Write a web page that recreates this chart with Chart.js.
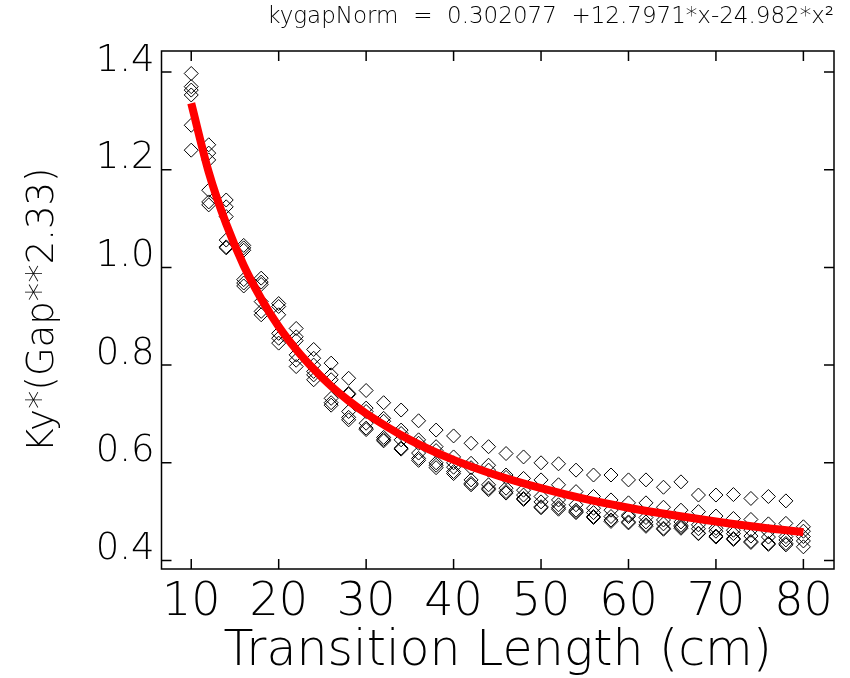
<!DOCTYPE html>
<html>
<head>
<meta charset="utf-8">
<script src="https://cdn.jsdelivr.net/npm/chart.js@4.4.0/dist/chart.umd.min.js"></script>
<style>
  html, body { margin: 0; padding: 0; background: #fff; }
</style>
</head>
<body>
<canvas id="myChart" width="850" height="678"></canvas>
<script>
// transition lengths (cm) where points were measured
const lengths = [10, 12, 14, 16, 18, 20, 22, 24, 26, 28, 30, 32, 34, 36, 38, 40, 42, 44,
                 46, 48, 50, 52, 54, 56, 58, 60, 62, 64, 66, 68, 70, 72, 74, 76, 78, 80];

// Ky*(Gap**2.33), one list per series
const seriesA = [1.397, 1.251, 1.138, 1.045, 0.978, 0.926, 0.875, 0.832, 0.804, 0.773, 0.748, 0.723,
                 0.708, 0.686, 0.667, 0.655, 0.640, 0.633, 0.619, 0.612, 0.600, 0.598, 0.585, 0.575,
                 0.575, 0.565, 0.565, 0.550, 0.561, 0.534, 0.534, 0.535, 0.527, 0.531, 0.522, null];
const seriesB = [1.370, 1.234, 1.124, 1.040, 0.970, 0.920, 0.858, 0.814, 0.780, 0.742, 0.712, 0.691,
                 0.667, 0.647, 0.633, 0.612, 0.599, 0.595, 0.575, 0.568, 0.565, 0.555, 0.541, 0.531,
                 0.524, 0.518, 0.518, 0.509, 0.503, 0.500, 0.491, 0.486, 0.484, 0.475, 0.476, 0.469];
const seriesC = [1.363, 1.220, 1.104, 1.035, 0.965, 0.903, 0.850, 0.800, 0.770, 0.740, 0.705, 0.685,
                 0.660, 0.640, 0.625, 0.600, 0.590, 0.585, 0.570, 0.544, 0.531, 0.524, 0.514, 0.507,
                 0.503, 0.493, 0.488, 0.483, 0.479, 0.473, 0.466, 0.462, 0.462, 0.459, 0.449, 0.460];
const seriesD = [1.353, 1.158, 1.056, 0.975, 0.930, 0.865, 0.821, 0.787, 0.732, 0.705, 0.681, 0.652,
                 0.647, 0.620, 0.600, 0.591, 0.565, 0.555, 0.548, 0.534, 0.520, 0.514, 0.503, 0.498,
                 0.490, 0.490, 0.479, 0.475, 0.472, 0.465, 0.460, 0.455, 0.450, 0.448, 0.442, 0.449];
const seriesE = [1.291, 1.134, 1.042, 0.968, 0.910, 0.855, 0.810, 0.780, 0.723, 0.693, 0.671, 0.648,
                 0.630, 0.609, 0.595, 0.582, 0.558, 0.548, 0.541, 0.527, 0.510, 0.508, 0.500, 0.490,
                 0.483, 0.479, 0.473, 0.466, 0.469, 0.456, 0.450, 0.445, 0.439, 0.435, 0.435, 0.440];
const seriesF = [1.240, 1.128, 1.040, 0.962, 0.903, 0.845, 0.797, 0.770, 0.718, 0.688, 0.668, 0.645,
                 0.628, 0.605, 0.590, 0.578, 0.555, 0.545, 0.538, 0.525, 0.508, 0.505, 0.498, 0.488,
                 0.480, 0.477, 0.470, 0.464, 0.466, 0.455, 0.448, 0.443, 0.437, 0.433, 0.432, 0.428];

// red fit curve
const fitLengths = [10, 12, 14, 16, 18, 20, 22, 24, 26, 28, 30, 35, 40, 45, 50, 55, 60, 65, 70, 75, 80];
const fitValues = [1.336, 1.195, 1.089, 1.004, 0.936, 0.879, 0.832, 0.792, 0.757, 0.727, 0.701,
                   0.647, 0.606, 0.574, 0.548, 0.526, 0.508, 0.493, 0.480, 0.468, 0.458];

const xTicks = [10, 20, 30, 40, 50, 60, 70, 80];
const yTicks = [0.4, 0.6, 0.8, 1.0, 1.2, 1.4];

const fontFamily = "'DejaVu Sans', sans-serif";

function toPoints(xs, ys) {
    return xs.map((x, i) => ({ x: x, y: ys[i] })).filter(p => p.y !== null);
}

// box around the plot with inward ticks on all four sides
const frameTicks = {
    id: "frameTicks",
    afterDraw(chart) {
        const { ctx, chartArea: a, scales } = chart;
        const len = 10;
        ctx.save();
        ctx.strokeStyle = "#000";
        ctx.lineWidth = 1.5;
        ctx.strokeRect(a.left, a.top, a.right - a.left, a.bottom - a.top);
        ctx.beginPath();
        scales.x.ticks.forEach(t => {
            const px = scales.x.getPixelForValue(t.value);
            ctx.moveTo(px, a.bottom); ctx.lineTo(px, a.bottom - len);
            ctx.moveTo(px, a.top); ctx.lineTo(px, a.top + len);
        });
        scales.y.ticks.forEach(t => {
            const py = scales.y.getPixelForValue(t.value);
            ctx.moveTo(a.left, py); ctx.lineTo(a.left + len, py);
            ctx.moveTo(a.right, py); ctx.lineTo(a.right - len, py);
        });
        ctx.stroke();
        ctx.restore();
    }
};

function diamonds(values) {
    return {
        type: "scatter",
        data: toPoints(lengths, values),
        pointStyle: "rectRot",
        pointRadius: 7,
        borderColor: "#000",
        borderWidth: 1,
        backgroundColor: "rgba(0,0,0,0)",
        order: 1
    };
}

new Chart(document.getElementById("myChart"), {
    type: "scatter",
    data: {
        datasets: [
            {
                type: "line",
                data: toPoints(fitLengths, fitValues),
                borderColor: "#ff0000",
                borderWidth: 8,
                pointRadius: 0,
                fill: false,
                cubicInterpolationMode: "monotone",
                order: 0
            },
            diamonds(seriesA),
            diamonds(seriesB),
            diamonds(seriesC),
            diamonds(seriesD),
            diamonds(seriesE),
            diamonds(seriesF)
        ]
    },
    options: {
        responsive: false,
        animation: false,
        events: [],
        layout: { padding: { top: 0, right: 16, bottom: 0, left: 0 } },
        plugins: {
            legend: { display: false },
            tooltip: { enabled: false },
            title: {
                display: true,
                text: "kygapNorm  =  0.302077  +12.7971*x-24.982*x²",
                align: "end",
                color: "#000",
                font: { family: fontFamily, size: 23, weight: "200", lineHeight: 1.2 },
                padding: { top: 3, bottom: 20.4 }
            }
        },
        scales: {
            x: {
                type: "linear",
                position: "bottom",
                min: 6.6,
                max: 83.5,
                afterBuildTicks: axis => { axis.ticks = xTicks.map(v => ({ value: v })); },
                afterFit: axis => { axis.height = 109; },
                grid: { display: false, drawTicks: false },
                border: { display: false },
                ticks: {
                    padding: 11,
                    color: "#000",
                    maxRotation: 0,
                    font: { family: fontFamily, size: 46, weight: "200", lineHeight: 1 },
                    callback: v => String(v)
                },
                title: {
                    display: true,
                    text: "Transition Length (cm)",
                    color: "#000",
                    font: { family: fontFamily, size: 49, weight: "200", lineHeight: 1 },
                    padding: { top: 0, bottom: 1 }
                }
            },
            y: {
                type: "linear",
                min: 0.3826,
                max: 1.443,
                afterBuildTicks: axis => { axis.ticks = yTicks.map(v => ({ value: v })); },
                afterFit: axis => { axis.width = 161.5; },
                grid: { display: false, drawTicks: false },
                border: { display: false },
                ticks: {
                    padding: 7,
                    labelOffset: -11,
                    color: "#000",
                    font: { family: fontFamily, size: 37, weight: "200", lineHeight: 1 },
                    callback: v => v.toFixed(1)
                },
                title: {
                    display: true,
                    text: "Ky*(Gap**2.33)",
                    color: "#000",
                    font: { family: fontFamily, size: 37, weight: "200", lineHeight: 1 },
                    padding: { top: 25, bottom: 0 }
                }
            }
        }
    },
    plugins: [frameTicks]
});
</script>
</body>
</html>
